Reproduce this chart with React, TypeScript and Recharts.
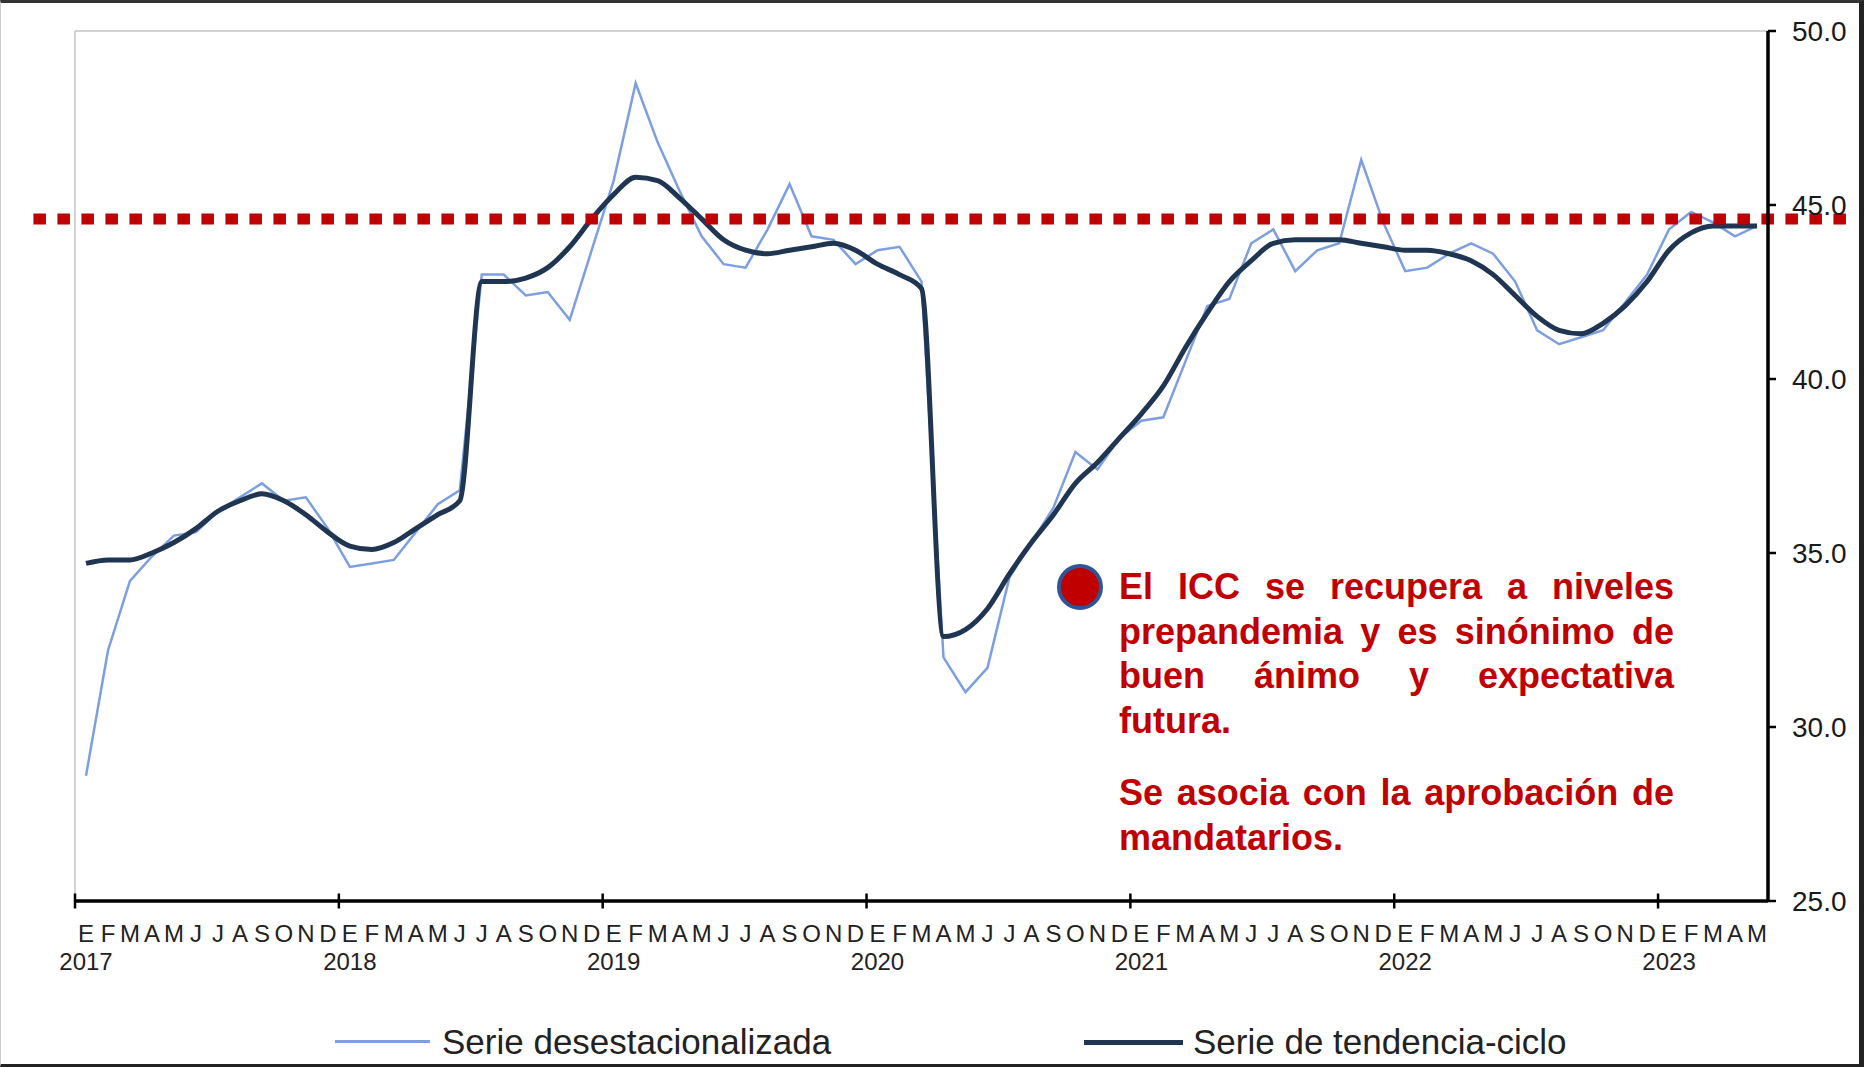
import { LineChart, Line, XAxis, YAxis, ReferenceLine } from 'recharts'

const meses = ['E', 'F', 'M', 'A', 'M', 'J', 'J', 'A', 'S', 'O', 'N', 'D']
const anios = ['2017', '2018', '2019', '2020', '2021', '2022', '2023']

// Serie desestacionalizada, ene-2017 a may-2023
const serieDesest = [
  28.6, 32.2, 34.2, 34.9, 35.5, 35.6, 36.2, 36.6, 37.0, 36.5, 36.6, 35.7,
  34.6, 34.7, 34.8, 35.6, 36.4, 36.8, 43.0, 43.0, 42.4, 42.5, 41.7, 43.7,
  45.7, 48.5, 46.8, 45.4, 44.1, 43.3, 43.2, 44.3, 45.6, 44.1, 44.0, 43.3,
  43.7, 43.8, 42.8, 32.0, 31.0, 31.7, 34.3, 35.3, 36.3, 37.9, 37.4, 38.3,
  38.8, 38.9, 40.5, 42.1, 42.3, 43.9, 44.3, 43.1, 43.7, 43.9, 46.3, 44.5,
  43.1, 43.2, 43.6, 43.9, 43.6, 42.8, 41.4, 41.0, 41.2, 41.4, 42.2, 43.0,
  44.3, 44.8, 44.5, 44.1, 44.4,
]

// Serie de tendencia-ciclo
const serieTendencia = [
  34.7, 34.8, 34.8, 35.0, 35.3, 35.7, 36.2, 36.5, 36.7, 36.5, 36.1, 35.6,
  35.2, 35.1, 35.3, 35.7, 36.1, 36.5, 42.8, 42.8, 42.9, 43.2, 43.8, 44.6,
  45.3, 45.8, 45.7, 45.2, 44.6, 44.0, 43.7, 43.6, 43.7, 43.8, 43.9, 43.7,
  43.3, 43.0, 42.6, 32.6, 32.8, 33.4, 34.4, 35.3, 36.1, 37.0, 37.6, 38.3,
  39.0, 39.8, 40.9, 41.9, 42.8, 43.4, 43.9, 44.0, 44.0, 44.0, 43.9, 43.8,
  43.7, 43.7, 43.6, 43.4, 43.0, 42.4, 41.8, 41.4, 41.3, 41.6, 42.1, 42.8,
  43.7, 44.2, 44.4, 44.4, 44.4,
]

const nivelPrepandemia = 44.6
const ticksY = [25, 30, 35, 40, 45, 50]
const nombresSeries = ['Serie desestacionalizada', 'Serie de tendencia-ciclo']

const notaParrafos = [
  ['El ICC se recupera a niveles', 'prepandemia y es sinónimo de', 'buen ánimo y expectativa', 'futura.'],
  ['Se asocia con la aprobación de', 'mandatarios.'],
]

const data = serieDesest.map((v, i) => ({
  x: i + 0.5,
  desest: v,
  tend: serieTendencia[i],
}))

const nMeses = data.length // 77 meses
const ticksX = [
  ...anios.map((_, k) => k * 12),
  ...data.map((d) => d.x),
].sort((a, b) => a - b)

const FONT = '"Liberation Sans", Arial, sans-serif'
const AZUL = '#7d9fe0'
const OSCURO = '#1f3551'
const ROJO = '#c00000'

const TickMes = (props: any) => {
  const { x, y, payload } = props
  const v = payload.value as number
  if (Number.isInteger(v)) {
    return <line x1={x} x2={x} y1={y - 7.5} y2={y + 7.5} stroke="#000" strokeWidth={2.5} />
  }
  const i = Math.floor(v)
  return (
    <g fontFamily={FONT} fill="#222">
      <text x={x} y={y + 41} textAnchor="middle" fontSize={24}>
        {meses[i % 12]}
      </text>
      {i % 12 === 0 && (
        <text x={x} y={y + 69} textAnchor="middle" fontSize={24}>
          {anios[i / 12]}
        </text>
      )}
    </g>
  )
}

export default function App() {
  return (
    <div style={{ position: 'absolute', left: 0, top: 0, width: 1864, height: 1067, background: '#fff' }}>
      <LineChart width={1864} height={1067} data={data} margin={{ top: 31, left: 75, right: 6, bottom: 66 }}>
        <XAxis
          type="number"
          dataKey="x"
          domain={[0, nMeses]}
          ticks={ticksX}
          interval={0}
          height={100}
          tickSize={0}
          tickMargin={0}
          tickLine={false}
          axisLine={{ stroke: '#000', strokeWidth: 3.5 }}
          tick={<TickMes />}
          allowDataOverflow
        />
        <YAxis
          orientation="right"
          width={90}
          domain={[25, 50]}
          ticks={ticksY}
          tickFormatter={(v: number) => v.toFixed(1)}
          tickSize={8}
          tickMargin={16}
          axisLine={{ stroke: '#000', strokeWidth: 3.5 }}
          tickLine={{ stroke: '#000', strokeWidth: 2.5 }}
          tick={{ fontSize: 28, fill: '#1a1a1a', fontFamily: FONT }}
        />
        <ReferenceLine y={50} stroke="#c4c4c4" strokeWidth={1.5} />
        <ReferenceLine x={0} stroke="#c4c4c4" strokeWidth={1.5} />
        <Line
          type="linear"
          dataKey="desest"
          stroke={AZUL}
          strokeWidth={2.5}
          dot={false}
          isAnimationActive={false}
        />
        <Line
          type="monotone"
          dataKey="tend"
          stroke={OSCURO}
          strokeWidth={5}
          dot={false}
          isAnimationActive={false}
        />
        <ReferenceLine
          segment={[
            { x: -1.89, y: nivelPrepandemia },
            { x: 80.55, y: nivelPrepandemia },
          ]}
          ifOverflow="visible"
          stroke={ROJO}
          strokeWidth={11}
          strokeDasharray="12.5 11.5"
        />
      </LineChart>

      {/* nota */}
      <div
        style={{
          position: 'absolute',
          left: 1057,
          top: 564,
          width: 46,
          height: 46,
          borderRadius: '50%',
          background: ROJO,
          border: '4px solid #2f5597',
          boxSizing: 'border-box',
        }}
      />
      <div
        style={{
          position: 'absolute',
          left: 1119,
          top: 565,
          width: 555,
          fontFamily: FONT,
          fontWeight: 'bold',
          fontSize: 36,
          lineHeight: '44.5px',
          color: ROJO,
        }}
      >
        {notaParrafos.map((lineas, p) => (
          <div key={p} style={{ marginTop: p ? 28 : 0 }}>
            {lineas.map((l, k) => (
              <div
                key={k}
                style={{
                  whiteSpace: 'nowrap',
                  textAlign: k < lineas.length - 1 ? 'justify' : 'left',
                  textAlignLast: k < lineas.length - 1 ? 'justify' : 'left',
                }}
              >
                {l}
              </div>
            ))}
          </div>
        ))}
      </div>

      {/* leyenda */}
      <div style={{ position: 'absolute', left: 335, top: 1040, width: 95, height: 3, background: AZUL }} />
      <div style={{ position: 'absolute', left: 442, top: 1022, fontFamily: FONT, fontSize: 35, lineHeight: '40px', color: '#222' }}>
        {nombresSeries[0]}
      </div>
      <div style={{ position: 'absolute', left: 1084, top: 1039.5, width: 99, height: 5, background: OSCURO }} />
      <div style={{ position: 'absolute', left: 1193, top: 1022, fontFamily: FONT, fontSize: 35, lineHeight: '40px', color: '#222' }}>
        {nombresSeries[1]}
      </div>

      {/* marco */}
      <div
        style={{
          position: 'absolute',
          left: 0,
          top: 0,
          width: 1864,
          height: 1067,
          boxSizing: 'border-box',
          borderTop: '3px solid #333',
          borderRight: '5px solid #222',
          borderBottom: '3px solid #222',
          borderLeft: '1px solid #ccc',
          pointerEvents: 'none',
        }}
      />
    </div>
  )
}
